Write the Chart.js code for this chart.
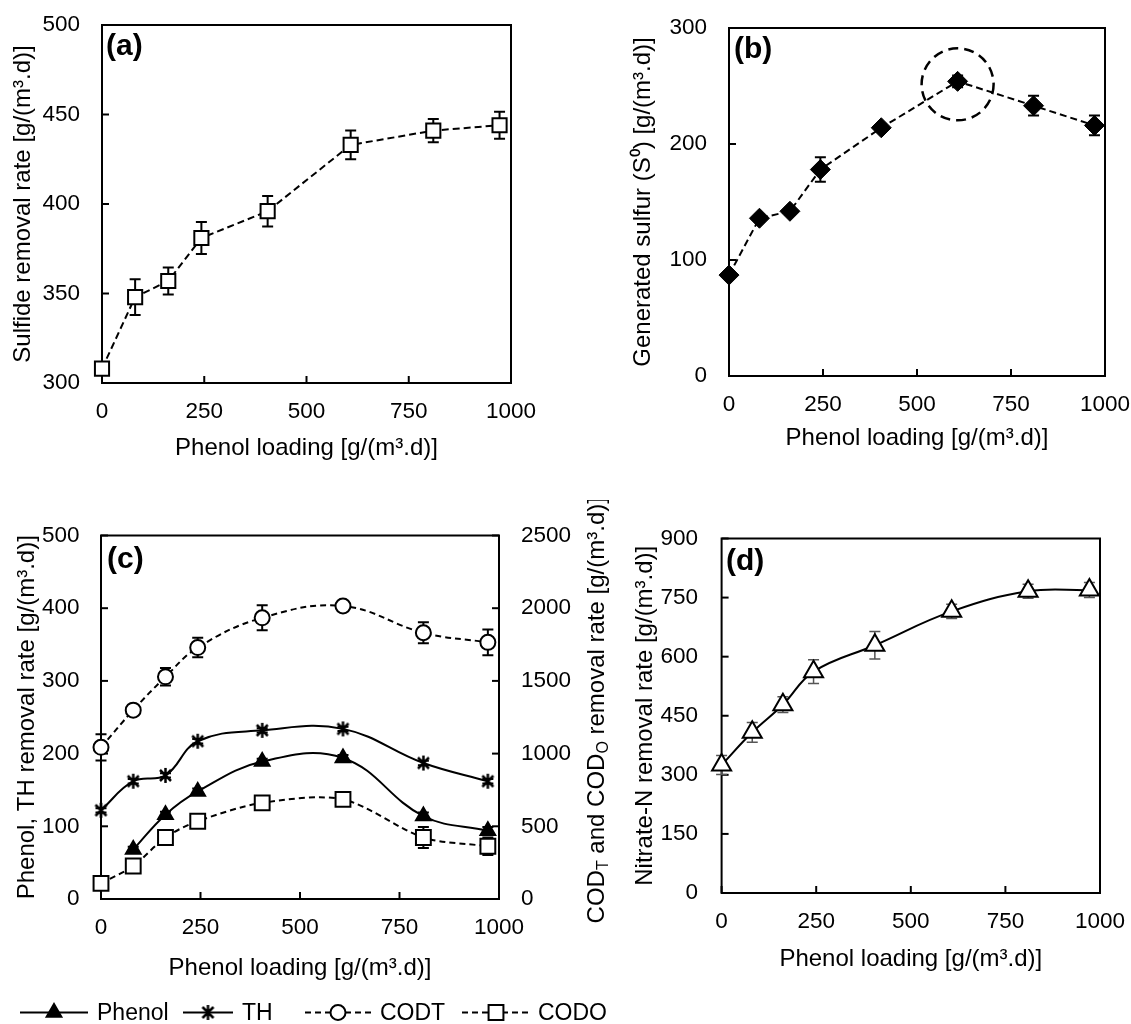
<!DOCTYPE html>
<html>
<head>
<meta charset="utf-8">
<script src="https://cdn.jsdelivr.net/npm/chart.js@4.4.1/dist/chart.umd.min.js"></script>
<style>
  html, body { margin: 0; padding: 0; background: #fff; }
  body { width: 1131px; height: 1024px; position: relative; overflow: hidden; }
  .panel { position: absolute; }
</style>
</head>
<body>
<div class="panel" style="left:0;top:0;width:560px;height:490px"><canvas id="chartA"></canvas></div>
<div class="panel" style="left:560px;top:0;width:571px;height:490px"><canvas id="chartB"></canvas></div>
<div class="panel" style="left:0;top:500px;width:615px;height:524px"><canvas id="chartC"></canvas></div>
<div class="panel" style="left:615px;top:500px;width:516px;height:524px"><canvas id="chartD"></canvas></div>
<script>
// phenol loading, g/(m3.d)
var loading = [0, 81, 162, 243, 405, 608, 810, 972];

var sulfideRate = [308, 348, 357, 381, 396, 433, 441, 444];
var sulfideErr  = [0, 10, 7.5, 9, 8.5, 8, 6.5, 7.5];

var sulfurGen = [87, 136, 142, 178, 214, 254, 233, 216];
var sulfurErr = [3, 3, 3, 10.5, 3, 5, 8.5, 8.5];

var phenolRate = [null, 68, 116, 148, 189, 194, 114, 94];
var phenolErr  = [0, 4, 4, 4, 4, 4, 5, 5];
var thRate = [122, 162, 170, 217, 232, 234, 187, 162];
var thErr  = [3, 3, 3, 3, 3, 3, 3, 3];
var codtRate = [1043, 1299, 1528, 1729, 1934, 2015, 1831, 1765];
var codtErr  = [90, 20, 60, 67, 86, 25, 72, 88];
var codoRate = [107, 227, 423, 535, 661, 685, 423, 363];
var codoErr  = [15, 15, 15, 15, 15, 15, 72, 60];

var nitrateRate = [325, 408, 478, 562, 629, 715, 766, 769];
var nitrateErr  = [24, 25, 20, 30, 35, 18, 18, 19];

var xTicks = [0, 250, 500, 750, 1000];
var aTicks = [300, 350, 400, 450, 500];
var bTicks = [0, 100, 200, 300];
var cTicks = [0, 100, 200, 300, 400, 500];
var cRightTicks = [0, 500, 1000, 1500, 2000, 2500];
var dTicks = [0, 150, 300, 450, 600, 750, 900];

var FONT = '"Liberation Sans", Arial, sans-serif';
var UNIT = ' [g/(m\u00b3.d)]';
var TICK_SIZE = 22.5, TITLE_SIZE = 24;

function pts(ys) {
    return loading.map(function(x, i){ return {x: x, y: ys[i]}; });
}

// asterisk marker (X with a vertical stroke)
var star = document.createElement('canvas');
star.width = 17; star.height = 17;
(function(){
    var c = star.getContext('2d');
    c.strokeStyle = '#000'; c.lineWidth = 2.5;
    c.beginPath();
    c.moveTo(3, 3); c.lineTo(14, 14);
    c.moveTo(14, 3); c.lineTo(3, 14);
    c.moveTo(8.5, 1); c.lineTo(8.5, 16);
    c.stroke();
})();

var framePlugin = {
    id: 'frame',
    beforeDatasetsDraw: function(chart) {
        var ctx = chart.ctx, a = chart.chartArea;
        ctx.save();
        ctx.strokeStyle = '#000';
        ctx.lineWidth = 2;
        ctx.strokeRect(a.left, a.top, a.right - a.left, a.bottom - a.top);
        Object.keys(chart.scales).forEach(function(k) {
            var s = chart.scales[k];
            s.ticks.forEach(function(t) {
                var p = s.getPixelForValue(t.value);
                ctx.beginPath();
                if (s.isHorizontal()) { ctx.moveTo(p, a.bottom); ctx.lineTo(p, a.bottom - 7); }
                else if (s.position === 'left') { ctx.moveTo(a.left, p); ctx.lineTo(a.left + 7, p); }
                else { ctx.moveTo(a.right, p); ctx.lineTo(a.right - 7, p); }
                ctx.stroke();
            });
        });
        // error bars
        chart.data.datasets.forEach(function(ds) {
            if (!ds.errors) return;
            var ys = chart.scales[ds.yAxisID || 'y'], xs = chart.scales.x;
            ctx.strokeStyle = ds.errColor || '#000';
            ctx.lineWidth = ds.errWidth || 2;
            ds.data.forEach(function(p, i) {
                var e = ds.errors[i];
                if (p.y == null || !e) return;
                var x = xs.getPixelForValue(p.x);
                var y0 = ys.getPixelForValue(p.y - e), y1 = ys.getPixelForValue(p.y + e);
                ctx.beginPath();
                ctx.moveTo(x, y0); ctx.lineTo(x, y1);
                ctx.moveTo(x - 5.5, y0); ctx.lineTo(x + 5.5, y0);
                ctx.moveTo(x - 5.5, y1); ctx.lineTo(x + 5.5, y1);
                ctx.stroke();
            });
        });
        ctx.restore();
    },
    afterDraw: function(chart, args, opts) {
        var ctx = chart.ctx, a = chart.chartArea;
        ctx.save();
        ctx.fillStyle = '#000';
        ctx.font = 'bold 30px ' + FONT;
        ctx.textBaseline = 'middle';
        ctx.textAlign = 'left';
        if (opts.letter) ctx.fillText(opts.letter, a.left + opts.dx, a.top + opts.dy);
        if (opts.ring) {
            // dashed ring round the highest point
            var ds = chart.data.datasets[0];
            var top = ds.data.reduce(function(m, p){ return p.y > m.y ? p : m; });
            var cx = chart.scales.x.getPixelForValue(top.x);
            var cy = chart.scales.y.getPixelForValue(top.y);
            ctx.strokeStyle = '#000';
            ctx.lineWidth = 2.5;
            ctx.setLineDash([10, 6]);
            ctx.beginPath();
            ctx.arc(cx, cy + 3, 36, 0, Math.PI * 2);
            ctx.stroke();
        }
        ctx.restore();
    }
};

var extrasPlugin = {
    id: 'extras',
    afterDraw: function(chart, args, opts) {
        if (!opts.enabled) return;
        var ctx = chart.ctx, a = chart.chartArea;
        ctx.save();
        ctx.fillStyle = '#000';
        // right axis title with subscripts
        var parts = [['COD', 0], ['T', 1], [' and COD', 0], ['O', 1], [' removal rate' + UNIT, 0]];
        var big = TITLE_SIZE + 'px ' + FONT, small = '16px ' + FONT;
        var total = 0;
        parts.forEach(function(p){ ctx.font = p[1] ? small : big; total += ctx.measureText(p[0]).width; });
        ctx.translate(opts.titleX, (a.top + a.bottom) / 2 - 7);
        ctx.rotate(-Math.PI / 2);
        ctx.textBaseline = 'middle';
        var x = -total / 2;
        parts.forEach(function(p){
            ctx.font = p[1] ? small : big;
            ctx.fillText(p[0], x, p[1] ? 7 : 0);
            x += ctx.measureText(p[0]).width;
        });
        ctx.setTransform(1, 0, 0, 1, 0, 0);
        // legend: line sample with marker, then label
        var y = opts.legendY;
        ctx.textBaseline = 'middle';
        opts.items.forEach(function(it, i) {
            var ds = chart.data.datasets[i];
            ctx.strokeStyle = '#000';
            ctx.lineWidth = 2;
            ctx.setLineDash(ds.borderDash ? [6, 4] : []);
            ctx.beginPath();
            ctx.moveTo(it.x0, y); ctx.lineTo(it.x1, y);
            ctx.stroke();
            ctx.setLineDash([]);
            ctx.fillStyle = ds.pointBackgroundColor;
            Chart.helpers.drawPoint(ctx, {
                pointStyle: ds.pointStyle, radius: ds.pointRadius, borderWidth: 2, rotation: 0
            }, (it.x0 + it.x1) / 2, y);
            ctx.fillStyle = '#000';
            ctx.font = '23px ' + FONT;
            ctx.fillText(ds.label, it.tx, y + 1);
        });
        ctx.restore();
    }
};

Chart.register(framePlugin, extrasPlugin);

function fixTicks(arr) {
    return function(s) { s.ticks = arr.map(function(v){ return {value: v}; }); };
}

function xAxis(height, tickPad, titlePad) {
    return {
        type: 'linear', min: 0, max: 1000,
        afterBuildTicks: fixTicks(xTicks),
        afterFit: function(s){ s.height = height; s.paddingLeft = 0; s.paddingRight = 0; },
        grid: {display: false, drawTicks: false},
        border: {display: false},
        ticks: {padding: tickPad, color: '#000', maxRotation: 0, autoSkip: false,
                font: {size: TICK_SIZE, family: FONT}, callback: function(v){ return String(v); }},
        title: {display: true, text: 'Phenol loading' + UNIT, color: '#000',
                font: {size: TITLE_SIZE, family: FONT}, padding: {top: 0, bottom: titlePad}}
    };
}

function yAxis(pos, tickArr, width, tickPad, title, titlePad) {
    return {
        type: 'linear', position: pos,
        min: tickArr[0], max: tickArr[tickArr.length - 1],
        afterBuildTicks: fixTicks(tickArr),
        afterFit: function(s){ s.width = width; s.paddingTop = 0; s.paddingBottom = 0; },
        grid: {display: false, drawTicks: false},
        border: {display: false},
        ticks: {padding: tickPad, color: '#000', autoSkip: false,
                font: {size: TICK_SIZE, family: FONT}, callback: function(v){ return String(v); }},
        title: {display: !!title, text: title, color: '#000',
                font: {size: TITLE_SIZE, family: FONT}, padding: {top: titlePad, bottom: 0}}
    };
}

function baseOptions(pad) {
    return {
        responsive: true, maintainAspectRatio: false, animation: false, events: [],
        layout: {padding: pad},
        plugins: {legend: {display: false}, tooltip: {enabled: false}}
    };
}

// (a) sulfide removal
var optA = baseOptions({left: 0, right: 49, top: 25, bottom: 0});
optA.scales = {x: xAxis(107, 15, 27.6), y: yAxis('left', aTicks, 102, 22, 'Sulfide removal rate' + UNIT, 8.8)};
optA.plugins.frame = {letter: '(a)', dx: 4, dy: 22};
new Chart(document.getElementById('chartA'), {
    type: 'line',
    data: {datasets: [{
        label: 'Sulfide', data: pts(sulfideRate), errors: sulfideErr,
        borderColor: '#000', borderWidth: 2, borderDash: [7, 4], tension: 0, clip: false,
        pointStyle: 'rect', pointRadius: 10, pointBorderWidth: 2,
        pointBackgroundColor: '#fff', pointBorderColor: '#000'
    }]},
    options: optA
});

// (b) generated sulfur
var optB = baseOptions({left: 0, right: 26, top: 28, bottom: 0});
optB.scales = {x: xAxis(114, 15.5, 37.6), y: yAxis('left', bTicks, 169, 22, 'Generated sulfur (S\u2070)' + UNIT, 69.4)};
optB.plugins.frame = {letter: '(b)', dx: 5, dy: 22, ring: true};
new Chart(document.getElementById('chartB'), {
    type: 'line',
    data: {datasets: [{
        label: 'S0', data: pts(sulfurGen), errors: sulfurErr,
        borderColor: '#000', borderWidth: 2, borderDash: [7, 4], tension: 0, clip: false,
        pointStyle: 'rectRot', pointRadius: 10, pointBorderWidth: 1,
        pointBackgroundColor: '#000', pointBorderColor: '#000'
    }]},
    options: optB
});

// (c) phenol, TH and COD removal
var optC = baseOptions({left: 0, right: 0, top: 35.5, bottom: 34});
optC.scales = {
    x: xAxis(91, 15.3, 7),
    y: yAxis('left', cTicks, 101, 21.5, 'Phenol, TH removal rate' + UNIT, 13.3),
    y2: yAxis('right', cRightTicks, 116, 22, '', 0)
};
optC.plugins.frame = {letter: '(c)', dx: 6, dy: 24.5};
optC.plugins.extras = {
    enabled: true, titleX: 597, legendY: 512.5,
    items: [
        {x0: 20, x1: 88, tx: 97},
        {x0: 183, x1: 233, tx: 242},
        {x0: 305, x1: 371, tx: 380},
        {x0: 462, x1: 530, tx: 538}
    ]
};
new Chart(document.getElementById('chartC'), {
    type: 'line',
    data: {datasets: [
        {label: 'Phenol', data: pts(phenolRate), errors: phenolErr, yAxisID: 'y',
         borderColor: '#000', borderWidth: 2, tension: 0.4, clip: false,
         pointStyle: 'triangle', pointRadius: 8.5, pointBorderWidth: 2,
         pointBackgroundColor: '#000', pointBorderColor: '#000'},
        {label: 'TH', data: pts(thRate), errors: thErr, yAxisID: 'y',
         borderColor: '#000', borderWidth: 2, tension: 0.4, clip: false,
         pointStyle: star, pointRadius: 8,
         pointBackgroundColor: '#000', pointBorderColor: '#000'},
        {label: 'CODT', data: pts(codtRate), errors: codtErr, yAxisID: 'y2',
         borderColor: '#000', borderWidth: 2, borderDash: [6, 4], tension: 0.4, clip: false,
         pointStyle: 'circle', pointRadius: 7.5, pointBorderWidth: 2,
         pointBackgroundColor: '#fff', pointBorderColor: '#000'},
        {label: 'CODO', data: pts(codoRate), errors: codoErr, yAxisID: 'y2',
         borderColor: '#000', borderWidth: 2, borderDash: [6, 4], tension: 0.3, clip: false,
         pointStyle: 'rect', pointRadius: 10.5, pointBorderWidth: 2,
         pointBackgroundColor: '#fff', pointBorderColor: '#000'}
    ]},
    options: optC
});

// (d) nitrate removal
var optD = baseOptions({left: 0, right: 31, top: 38.5, bottom: 34});
optD.scales = {x: xAxis(97, 15.5, 16.6), y: yAxis('left', dTicks, 106.6, 23.6, 'Nitrate-N removal rate' + UNIT, 15.6)};
optD.plugins.frame = {letter: '(d)', dx: 4.4, dy: 23};
new Chart(document.getElementById('chartD'), {
    type: 'line',
    data: {datasets: [{
        label: 'Nitrate-N', data: pts(nitrateRate), errors: nitrateErr, errColor: '#555', errWidth: 1.5,
        borderColor: '#000', borderWidth: 2, tension: 0.4, clip: false,
        pointStyle: 'triangle', pointRadius: 11, pointBorderWidth: 2,
        pointBackgroundColor: '#fff', pointBorderColor: '#000'
    }]},
    options: optD
});
</script>
</body>
</html>
